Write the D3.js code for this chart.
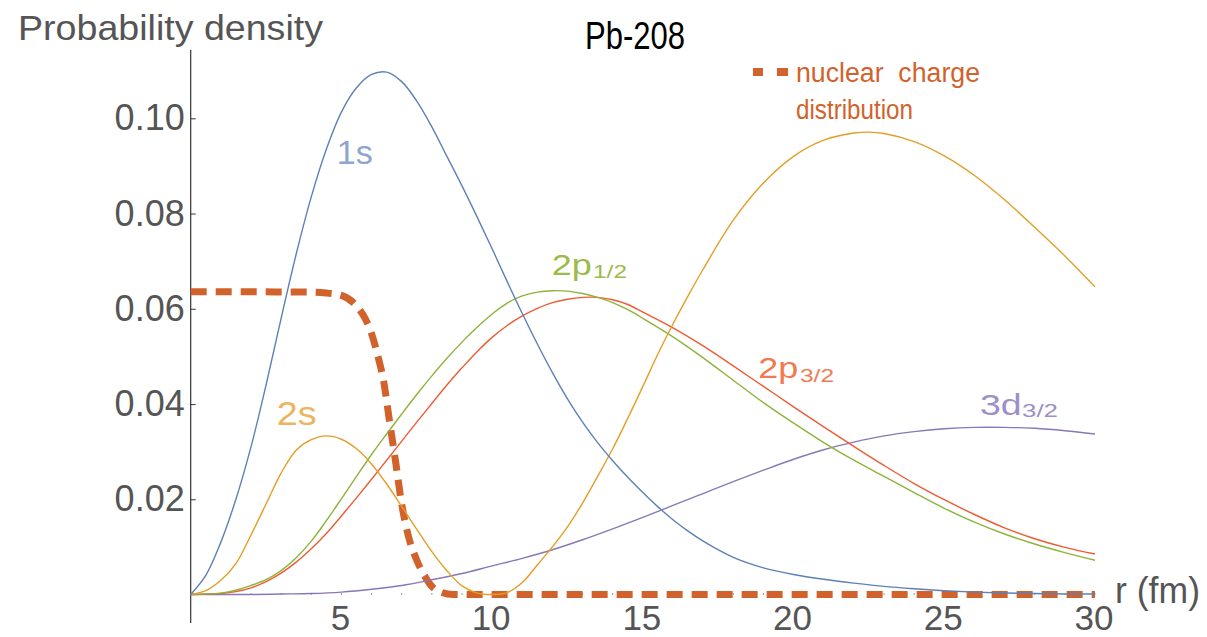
<!DOCTYPE html>
<html>
<head>
<meta charset="utf-8">
<script src="https://cdn.jsdelivr.net/npm/d3@7"></script>
<style>
  html, body { margin: 0; padding: 0; background: #fff; }
  svg { display: block; font-family: "Liberation Sans", Arial, Helvetica, sans-serif; }
</style>
</head>
<body>
<svg id="chart" width="1207" height="637"></svg>
<script>
// ---------- data ----------
const r1s = [0,0.5,1,1.5,2,2.5,3,3.5,4,4.5,5,5.5,6,6.5,7,7.5,8,8.5,9,9.5,10,10.5,11,11.5,12,12.5,13,13.5,14,14.5,15,15.5,16,16.5,17,18,19,20,21,22,23,24,25,26,27,28,29,30];
const p1s = [0,0.004,0.011,0.020,0.031,0.044,0.058,0.0715,0.0835,0.0935,0.1013,0.1064,0.1092,0.1097,0.1077,0.1036,0.0982,0.0920,0.0858,0.0793,0.0726,0.0657,0.0590,0.0526,0.0466,0.0411,0.0362,0.0319,0.0281,0.0246,0.0214,0.0184,0.0157,0.0133,0.0112,0.0078,0.0056,0.0042,0.0032,0.0024,0.0017,0.0012,0.0008,0.0005,0.0003,0.0002,0.0001,0.0001];

const r2s = [0,0.5,1,1.5,2,2.5,3,3.5,4,4.5,5,5.5,6,6.5,7,7.5,8,8.5,9,9.5,10,10.5,11,11.5,12,12.5,13,13.5,14,14.5,15,15.5,16,16.5,17,18,19,20,21,22,22.5,23,24,25,26,27,28,29,30];
const p2s = [0,0.0008,0.003,0.0065,0.0125,0.019,0.0255,0.0303,0.0325,0.0333,0.0326,0.0306,0.0274,0.0232,0.0185,0.0137,0.0090,0.0050,0.0018,0.0003,0.0000,0.0004,0.0025,0.0062,0.0100,0.0142,0.0192,0.0248,0.0306,0.0370,0.0437,0.0505,0.0568,0.0627,0.0683,0.0786,0.0864,0.0920,0.0954,0.0969,0.0971,0.0968,0.0951,0.0921,0.0880,0.0829,0.0771,0.0711,0.0646];

const r2p = [0,1,1.5,2,2.5,3,3.5,4,4.5,5,5.5,6,6.5,7,7.5,8,8.5,9,9.5,10,10.5,11,11.5,12,12.5,13,13.5,14,14.5,15,16,17,18,19,20,21,22,23,24,25,26,27,28,29,30];
const p2p12 = [0,0.0003,0.0009,0.0019,0.0031,0.0050,0.0077,0.0112,0.0155,0.0201,0.0248,0.0294,0.0337,0.0379,0.0420,0.0459,0.0496,0.0530,0.0561,0.0589,0.0612,0.0627,0.0635,0.0638,0.0637,0.0632,0.0624,0.0613,0.0598,0.0580,0.0541,0.0497,0.0450,0.0403,0.0360,0.0319,0.0282,0.0248,0.0214,0.0181,0.0152,0.0127,0.0106,0.0088,0.0072];
const p2p32 = [0,0.0002,0.0006,0.0014,0.0027,0.0045,0.0068,0.0096,0.0128,0.0165,0.0203,0.0242,0.0282,0.0322,0.0362,0.0401,0.0440,0.0476,0.0510,0.0540,0.0565,0.0585,0.0601,0.0613,0.0620,0.0624,0.0624,0.0619,0.0609,0.0593,0.0560,0.0522,0.0480,0.0437,0.0394,0.0352,0.0311,0.0271,0.0233,0.0199,0.0168,0.0140,0.0117,0.0099,0.0085];

const r3d = [0,2,3,4,5,6,7,8,9,10,11,12,13,14,15,16,17,18,19,20,21,22,23,24,25,26,27,28,29,30];
const p3d = [0,0,0.0001,0.0002,0.0005,0.0011,0.0019,0.0031,0.0044,0.0060,0.0076,0.0094,0.0115,0.0138,0.0162,0.0187,0.0212,0.0237,0.0261,0.0284,0.0304,0.0320,0.0333,0.0342,0.0348,0.0351,0.0351,0.0349,0.0344,0.0337];

const rCharge = [0,4,4.5,5,5.5,5.8,6,6.2,6.4,6.6,6.8,7,7.2,7.5,7.8,8,8.3,8.7,30];
const pCharge = [0.0636,0.0635,0.0633,0.0628,0.0606,0.0578,0.0548,0.0503,0.0448,0.0362,0.0278,0.0190,0.0128,0.0072,0.0035,0.0017,0.0005,0,0];

const yTicks = [0.02,0.04,0.06,0.08,0.10];
const xTicks = [5,10,15,20,25,30];
const xMinorTicks = d3.range(1,31);

// ---------- drawing ----------
const svg = d3.select("#chart");
const x = d3.scaleLinear().domain([0,30]).range([190.7,1095]);
const y = d3.scaleLinear().domain([0,0.10]).range([594.5,118.3]);

const colors = {
  "1s":"#5E81B5", "2s":"#E39E26", "2p1/2":"#8DB33A", "2p3/2":"#EE5B33", "3d3/2":"#8878B8", "charge":"#D2622B"
};
const labelColors = {
  "1s":"#8DA6CF", "2s":"#EDB45E", "2p1/2":"#9CBB4A", "2p3/2":"#F07A52", "3d3/2":"#9C90C8"
};

const line = d3.line().x(d => x(d[0])).y(d => y(d[1])).curve(d3.curveCatmullRom.alpha(0.5));
const lineCharge = d3.line().x(d => x(d[0])).y(d => y(d[1])).curve(d3.curveMonotoneX);
const zip = (a,b) => a.map((v,i) => [v,b[i]]);

// minor x ticks (visible only in gaps)
svg.append("g").selectAll("line").data(xMinorTicks).join("line")
  .attr("x1", d => x(d)).attr("x2", d => x(d))
  .attr("y1", y(0) - 1.5).attr("y2", y(0) + 0.5)
  .attr("stroke", "#999").attr("stroke-width", 1);

// y axis
const yAxis = d3.axisLeft(y).tickValues(yTicks).tickSize(-5).tickPadding(6).tickFormat(d3.format(".2f"));
const gy = svg.append("g").attr("transform", `translate(${x(0)},0)`).call(yAxis);
gy.select(".domain").remove();
gy.selectAll(".tick line").attr("stroke", "#444").attr("stroke-width", 1.1);
gy.selectAll(".tick text").attr("font-size", 36).attr("fill", "#555")
  .attr("font-family", "'Liberation Sans', Arial, sans-serif");
svg.append("line").attr("x1", x(0)).attr("x2", x(0)).attr("y1", 50).attr("y2", 623)
  .attr("stroke", "#333").attr("stroke-width", 1.2);

// x tick labels
svg.append("g").selectAll("text").data(xTicks).join("text")
  .attr("x", d => x(d) - 1).attr("y", 630)
  .attr("text-anchor", "middle").attr("font-size", 35).attr("fill", "#555")
  .text(d => d);

// nuclear charge distribution (dashed)
svg.append("path").attr("d", lineCharge(zip(rCharge, pCharge)))
  .attr("fill", "none").attr("stroke", colors.charge).attr("stroke-width", 7)
  .attr("stroke-dasharray", "16,9");

// curves
const curveData = [
  ["3d3/2", r3d, p3d],
  ["2p3/2", r2p, p2p32],
  ["2p1/2", r2p, p2p12],
  ["2s", r2s, p2s],
  ["1s", r1s, p1s]
];
svg.append("g").selectAll("path").data(curveData).join("path")
  .attr("d", d => line(zip(d[1], d[2])))
  .attr("fill", "none").attr("stroke", d => colors[d[0]]).attr("stroke-width", 1.4);

// curve labels
function label(main, sub, x0, yb, w, size, subX, subYb, subW, subSize, col) {
  svg.append("text").attr("x", x0).attr("y", yb).attr("font-size", size).attr("fill", col)
    .attr("textLength", w).attr("lengthAdjust", "spacingAndGlyphs").text(main);
  if (sub) {
    svg.append("text").attr("x", subX).attr("y", subYb).attr("font-size", subSize).attr("fill", col)
      .attr("textLength", subW).attr("lengthAdjust", "spacingAndGlyphs").text(sub);
  }
}
label("1s", null, 336.7, 164, 36, 34, 0, 0, 0, 0, labelColors["1s"]);
label("2s", null, 276.7, 425, 40, 34, 0, 0, 0, 0, labelColors["2s"]);
label("2p", "1/2", 551.7, 275, 40, 30, 593, 278, 34, 19, labelColors["2p1/2"]);
label("2p", "3/2", 758.3, 378.3, 40, 30, 800, 381.7, 34, 19, labelColors["2p3/2"]);
label("3d", "3/2", 980, 415, 41.7, 30, 1022, 417.3, 36, 19, labelColors["3d3/2"]);

// titles
svg.append("text").attr("x", 18).attr("y", 40).attr("font-size", 35).attr("fill", "#555")
  .attr("textLength", 305).attr("lengthAdjust", "spacingAndGlyphs").text("Probability density");
svg.append("text").attr("x", 585).attr("y", 49.3).attr("font-size", 38).attr("fill", "#000")
  .attr("textLength", 100).attr("lengthAdjust", "spacingAndGlyphs").text("Pb-208");
svg.append("text").attr("x", 1115).attr("y", 603).attr("font-size", 36).attr("fill", "#555")
  .attr("textLength", 85).attr("lengthAdjust", "spacingAndGlyphs").text("r (fm)");

// legend
const lg = svg.append("g");
lg.append("line").attr("x1", 753).attr("x2", 763).attr("y1", 72).attr("y2", 72)
  .attr("stroke", colors.charge).attr("stroke-width", 8);
lg.append("line").attr("x1", 777).attr("x2", 788).attr("y1", 72).attr("y2", 72)
  .attr("stroke", colors.charge).attr("stroke-width", 8);
lg.append("text").attr("x", 796).attr("y", 82).attr("font-size", 27).attr("fill", colors.charge)
  .style("white-space", "pre").attr("textLength", 184).attr("lengthAdjust", "spacingAndGlyphs")
  .text("nuclear  charge");
lg.append("text").attr("x", 796).attr("y", 118.5).attr("font-size", 27).attr("fill", colors.charge)
  .attr("textLength", 117).attr("lengthAdjust", "spacingAndGlyphs").text("distribution");
</script>
</body>
</html>
